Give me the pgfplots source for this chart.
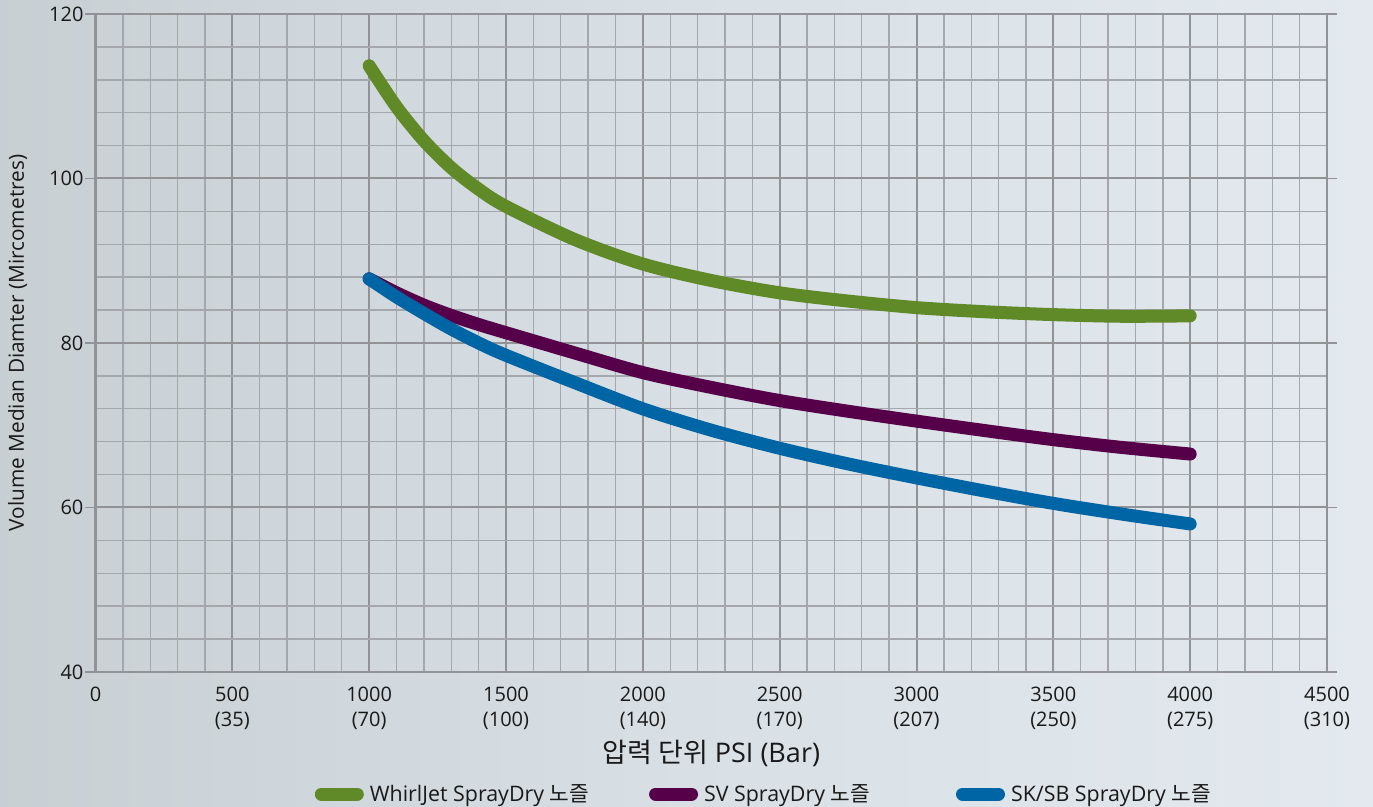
\documentclass[border=0pt]{standalone}
\usepackage{pgfplots}
\pgfplotsset{compat=1.18}
\usepackage{fontspec}
\setmainfont{Open Sans}
\newfontfamily\kr{Noto Sans CJK KR}

\definecolor{bgA}{RGB}{158,164,168}
\definecolor{bgB}{RGB}{188,196,199}
\definecolor{bgC}{RGB}{216,224,230}
\definecolor{bgD}{RGB}{238,242,246}
\definecolor{gridmajor}{RGB}{146,147,151}
\definecolor{gridminor}{RGB}{164,167,171}
\definecolor{cgreen}{RGB}{96,137,39}
\definecolor{cpurple}{RGB}{86,0,73}
\definecolor{cblue}{RGB}{0,101,164}
\definecolor{txt}{RGB}{25,25,25}

\pgfdeclarehorizontalshading{bgshade}{100bp}{color(0bp)=(bgA); color(8bp)=(bgB); color(50bp)=(bgC); color(100bp)=(bgD)}

% values
\pgfplotstableread{
x y
1000 113.7
1100 108.7
1200 104.6
1300 101.3
1400 98.7
1500 96.6
1750 92.6
2000 89.6
2250 87.6
2500 86.1
2750 85.1
3000 84.3
3250 83.8
3500 83.45
3750 83.25
4000 83.3
}\whirljet

\pgfplotstableread{
x y
1000 87.8
1100 86.1
1200 84.6
1300 83.35
1400 82.25
1500 81.25
1750 78.8
2000 76.4
2250 74.6
2500 73.0
2750 71.7
3000 70.5
3250 69.35
3500 68.25
3750 67.3
4000 66.5
}\sv

\pgfplotstableread{
x y
1000 87.8
1100 85.6
1200 83.6
1300 81.7
1400 80.0
1500 78.5
1750 75.2
2000 72.0
2250 69.4
2500 67.2
2750 65.3
3000 63.6
3250 62.0
3500 60.5
3750 59.2
4000 58.0
}\sksb

\begin{document}
\begin{tikzpicture}
\shade[shading=bgshade] (0,0) rectangle (686.5pt,403.5pt);
\begin{axis}[
  at={(47.75pt,67.5pt)}, anchor=south west,
  width=615.75pt, height=329pt, scale only axis,
  xmin=0, xmax=4500, ymin=40, ymax=120,
  xtick={0,500,...,4500},
  xticklabels={0, 500\\(35), 1000\\(70), 1500\\(100), 2000\\(140), 2500\\(170), 3000\\(207), 3500\\(250), 4000\\(275), 4500\\(310)},
  ytick={40,60,...,120},
  minor x tick num=4, minor y tick num=4,
  grid=both,
  major grid style={draw=gridmajor, line width=1pt},
  minor grid style={draw=gridminor, line width=0.7pt},
  axis line style={draw=gridmajor, line width=1.4pt},
  tick align=outside, major tick length=5pt, minor tick length=0pt,
  xtick style={draw=none},
  ytick style={draw=gridmajor, line width=0.8pt},
  /pgf/number format/assume math mode=true,
  tick label style={font=\fontsize{10}{12.5}\selectfont, text=txt},
  xticklabel style={align=center, yshift=1pt},
  yticklabel style={xshift=2.5pt},
  every axis y label/.style={at={(axis description cs:-0.0633,0.5)}, rotate=90, anchor=center, font=\fontsize{10.4}{12}\selectfont, text=txt},
  every axis x label/.style={at={(axis description cs:0.5,-0.1245)}, anchor=center, font=\fontsize{13.5}{16}\selectfont, text=txt},
  ylabel={Volume Median Diamter (Mircometres)},
  xlabel={{\kr 압력 단위} PSI (Bar)},
  legend columns=3,
  legend cell align=left,
  legend style={at={(axis description cs:0.5435,-0.1855)}, anchor=center, draw=none, fill=none,
    font=\fontsize{10.7}{12}\selectfont, text=txt,
    /tikz/column 1/.style={column sep=1pt},
    /tikz/column 3/.style={column sep=1pt},
    /tikz/column 5/.style={column sep=1pt},
    /tikz/column 2/.style={column sep=28pt},
    /tikz/column 4/.style={column sep=41pt}},
  legend image code/.code={\draw[#1, line width=6.5pt, line cap=round] (3.25pt,0pt) -- (21.25pt,0pt);},
]
\addplot[cgreen, line width=6.5pt, line cap=round, smooth, no markers] table {\whirljet};
\addlegendentry{WhirlJet SprayDry {\kr 노즐}}
\addplot[cpurple, line width=6.5pt, line cap=round, smooth, no markers] table {\sv};
\addlegendentry{SV SprayDry {\kr 노즐}}
\addplot[cblue, line width=6.5pt, line cap=round, smooth, no markers] table {\sksb};
\addlegendentry{SK/SB SprayDry {\kr 노즐}}
\end{axis}
\pgfresetboundingbox
\useasboundingbox (0,0) rectangle (686.5pt,403.5pt);
\end{tikzpicture}
\end{document}
